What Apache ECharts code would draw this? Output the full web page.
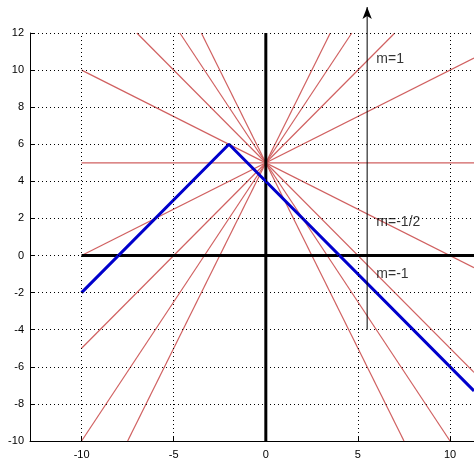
<!DOCTYPE html>
<html><head><meta charset="utf-8">
<script src="https://cdn.jsdelivr.net/npm/echarts@6/dist/echarts.min.js"></script>
<style>html,body{margin:0;padding:0;background:#fff}#c{width:474px;height:468px}</style>
</head><body><div id="c"></div>
<script>
const slopes = [-2,-1.5,-1,-0.5,0,0.5,1,1.5,2];
const pivot = [0,5];
const blue = [[-10,-2],[-2,6],[11.3,-7.3]];
const xTicks = [-10,-5,0,5,10];
const yTicks = [-10,-8,-6,-4,-2,0,2,4,6,8,10,12];
const labels = [{t:'m=1',x:6,y:10.6},{t:'m=-1/2',x:6,y:1.8},{t:'m=-1',x:6,y:-1}];
const arrow = [[5.5,-4],[5.5,13.4]];
const X0=-12.8, X1=11.3, Y0=-10, Y1=12;

function clipLine(m){
  const b=pivot[1]; const pts=[];
  for(const x of [-10,X1]){ pts.push([x,b+m*x]); }
  return pts.map(([x,y])=>{
    if(y>Y1){ return [(Y1-b)/m,Y1]; }
    if(y<Y0){ return [(Y0-b)/m,Y0]; }
    return [x,y];
  });
}
const series=[];
series.push({type:'line',data:[],markLine:{silent:true,symbol:'none',label:{show:false},
  lineStyle:{color:'#000',type:[1,3],width:1},
  data:[...xTicks.map(v=>({xAxis:v})),...yTicks.map(v=>({yAxis:v}))]}});
slopes.forEach(m=>series.push({type:'line',data:clipLine(m),showSymbol:false,lineStyle:{color:'#d06060',width:1.2},z:2}));
series.push({type:'line',data:[[-10,0],[X1,0]],showSymbol:false,lineStyle:{color:'#000',width:3},z:3});
series.push({type:'line',data:[[0,Y0],[0,Y1]],showSymbol:false,lineStyle:{color:'#000',width:3},z:3});
series.push({type:'line',data:blue,showSymbol:false,lineStyle:{color:'#0000cc',width:3},z:4});
series.push({type:'line',clip:false,z:5,lineStyle:{color:'#000',width:1},
  data:[{value:arrow[0],symbol:'none'},{value:arrow[1],symbol:'arrow',symbolSize:[7,12],itemStyle:{color:'#000'}}]});
series.push({type:'scatter',symbolSize:0,z:6,data:labels.map(l=>({value:[l.x,l.y],label:{show:true,formatter:l.t,position:'right',distance:0,color:'#000',fontSize:14,fontFamily:'Arial'}}))});
const chart=echarts.init(document.getElementById('c'));
chart.setOption({animation:false,
  grid:{left:30,right:0,top:33,bottom:27},
  xAxis:{type:'value',min:X0,max:X1,splitLine:{show:false},
    axisLine:{onZero:false,lineStyle:{color:'#000'}},
    axisTick:{customValues:xTicks,inside:true,lineStyle:{color:'#000'}},
    axisLabel:{customValues:xTicks,color:'#000',fontSize:11,fontFamily:'Arial',margin:8}},
  yAxis:{type:'value',min:Y0,max:Y1,interval:2,splitLine:{show:false},
    axisLine:{show:true,onZero:false,lineStyle:{color:'#000'}},
    axisTick:{show:true,inside:true,lineStyle:{color:'#000'}},
    axisLabel:{color:'#000',fontSize:11,fontFamily:'Arial',margin:6}},
  series});
</script></body></html>
